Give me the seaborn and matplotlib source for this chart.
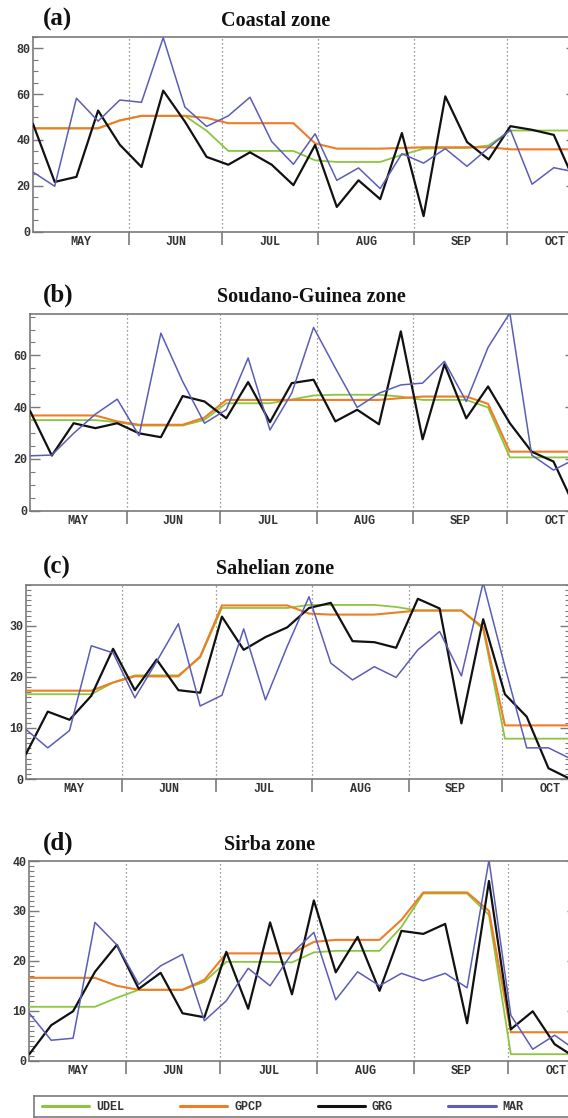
import numpy as np
import pandas as pd
import matplotlib
matplotlib.use("Agg")
import matplotlib.pyplot as plt
from matplotlib.lines import Line2D
from matplotlib.ticker import MultipleLocator, FixedLocator, FixedFormatter, NullFormatter
import seaborn as sns

sns.set_theme(style="white")
plt.rcParams["font.family"] = ["Liberation Mono", "DejaVu Sans Mono"]

W, H, DPI = 568, 1118, 100

# ── Data (weekly values, day 0 = 1 May) ──────────────────────────────────────
days = np.arange(26) * 7
months = ["MAY", "JUN", "JUL", "AUG", "SEP", "OCT"]
month_starts = [0, 31, 61, 92, 123, 153, 184]

series = ["UDEL", "GPCP", "GRG", "MAR"]

coastal_udel = [45, 45, 45, 45, 48.5, 50.5, 50.5, 50.5, 44, 35.2, 35.2, 35.2, 35.2,
                31.1, 30.4, 30.4, 30.4, 33.5, 36.2, 36.5, 36.5, 37.6, 44.1, 44.1, 44.1, 44.1]
coastal_gpcp = [45.1, 45.1, 45.1, 45.1, 48.5, 50.5, 50.5, 50.5, 49.6, 47.3, 47.3, 47.3, 47.3,
                38.5, 36.2, 36.2, 36.2, 36.5, 36.8, 36.8, 36.8, 36.8, 35.9, 35.9, 35.9, 35.9]
coastal_grg = [47.0, 21.7, 23.9, 52.8, 37.9, 28.2, 61.5, 48, 32.6, 29.2, 34.6, 29.2, 20.3,
               37.8, 10.8, 22.4, 14.2, 43.0, 6.8, 59.0, 39.1, 31.5, 46.0, 44.4, 42.2, 21]
coastal_mar = [26, 19.8, 58.2, 48.2, 57.4, 56.4, 84.6, 54.3, 45.9, 50.5, 58.6, 39.3, 29.4,
               42.7, 22.4, 27.8, 18.8, 34.0, 29.9, 36.2, 28.5, 36.6, 44.4, 20.7, 27.9, 26]

soudano_udel = [35.0, 35.0, 35.0, 35.0, 34.2, 32.9, 32.9, 32.9, 35.1, 41.5, 41.5, 41.5, 43.0,
                44.5, 44.8, 44.8, 44.8, 44.1, 42.8, 42.8, 42.8, 39.9, 20.6, 20.6, 20.6, 20.6]
soudano_gpcp = [36.8, 36.8, 36.8, 36.8, 34.5, 33.2, 33.2, 33.2, 36.0, 42.8, 42.8, 42.8, 42.8,
                42.8, 42.8, 42.8, 42.8, 43.5, 44.1, 44.1, 44.1, 41.3, 22.8, 22.8, 22.8, 22.8]
soudano_grg = [38.6, 21.3, 33.8, 31.9, 33.8, 29.9, 28.4, 44.3, 42.2, 35.7, 49.7, 34.2, 49.3,
               50.6, 34.5, 39.0, 33.4, 69.3, 27.6, 56.6, 35.7, 48.0, 33.8, 22.8, 19.0, 1.0]
soudano_mar = [21.2, 21.5, 29.9, 37.3, 43.1, 29.0, 68.6, 49.9, 33.8, 39.0, 59.0, 31.2, 45.4,
               70.8, 55.1, 39.9, 45.4, 48.6, 49.3, 57.7, 42.2, 63.1, 76.4, 21.5, 15.7, 20]

sahel_udel = [16.6, 16.6, 16.6, 16.6, 18.9, 20.3, 20.3, 20.3, 23.8, 33.5, 33.5, 33.5, 33.5,
              34.1, 34.1, 34.1, 34.1, 33.7, 33.0, 33.0, 33.0, 29.4, 7.9, 7.9, 7.9, 7.9]
sahel_gpcp = [17.3, 17.3, 17.3, 17.3, 18.9, 20.1, 20.1, 20.1, 24.0, 34.0, 34.0, 34.0, 34.0,
              32.4, 32.2, 32.2, 32.2, 32.6, 33.0, 33.0, 33.0, 29.7, 10.5, 10.5, 10.5, 10.5]
sahel_grg = [4.9, 13.2, 11.6, 16.3, 25.5, 17.4, 23.4, 17.4, 16.9, 31.8, 25.3, 27.8, 29.7,
             33.5, 34.5, 27.0, 26.8, 25.7, 35.3, 33.4, 10.9, 31.3, 16.6, 12.2, 2.1, 0.0]
sahel_mar = [9.7, 6.1, 9.5, 26.1, 24.7, 15.9, 23.0, 30.4, 14.3, 16.4, 29.4, 15.5, 26.0,
             35.7, 22.7, 19.4, 22.0, 19.9, 25.3, 28.9, 20.2, 38.5, 22.0, 6.1, 6.1, 4.0]

sirba_udel = [10.8, 10.8, 10.8, 10.8, 12.6, 14.2, 14.2, 14.2, 15.8, 19.8, 19.8, 19.8, 19.7,
              21.7, 22.0, 22.0, 22.0, 26.8, 33.5, 33.5, 33.5, 29.2, 1.3, 1.3, 1.3, 1.3]
sirba_gpcp = [16.6, 16.6, 16.6, 16.6, 15.0, 14.2, 14.2, 14.2, 16.2, 21.5, 21.5, 21.5, 21.5,
              23.8, 24.2, 24.2, 24.2, 28.2, 33.7, 33.7, 33.7, 30.0, 5.7, 5.7, 5.7, 5.7]
sirba_grg = [1.3, 7.1, 9.9, 17.8, 23.2, 14.4, 17.6, 9.5, 8.7, 21.8, 10.4, 27.7, 13.3,
             32.1, 17.7, 24.8, 14.0, 26.0, 25.4, 27.4, 7.5, 36.0, 6.3, 9.9, 3.3, 0.5]
sirba_mar = [9.5, 4.1, 4.5, 27.7, 23.2, 15.3, 19.0, 21.3, 8.0, 12.0, 18.5, 15.0, 21.5,
             25.7, 12.2, 17.8, 15.0, 17.5, 16.0, 17.5, 14.6, 40.2, 9.1, 2.3, 5.1, 2.0]

# ── Styling ──────────────────────────────────────────────────────────────────
COLORS = {"UDEL": "#8cc63e", "GPCP": "#ee7d26", "GRG": "#111111", "MAR": "#5b5db6"}
LWS = {"UDEL": 1.3, "GPCP": 1.5, "GRG": 1.6, "MAR": 1.1}
GREY = "#7a7a7a"
TXT = "#333333"

# panel geometry in pixels: left, top, bottom, px-per-day ; title placement
panels = [
    dict(label="(a)", title="Coastal zone", data=[coastal_udel, coastal_gpcp, coastal_grg, coastal_mar],
         ylim=85, major=20, minor=5, left=33, top=36.7, bottom=231.7, k=3.10,
         base=26, tx=221),
    dict(label="(b)", title="Soudano-Guinea zone", data=[soudano_udel, soudano_gpcp, soudano_grg, soudano_mar],
         ylim=76, major=20, minor=5, left=30, top=314, bottom=510.7, k=3.116,
         base=302, tx=217),
    dict(label="(c)", title="Sahelian zone", data=[sahel_udel, sahel_gpcp, sahel_grg, sahel_mar],
         ylim=38, major=10, minor=1, left=26, top=585, bottom=779, k=3.11,
         base=574, tx=216),
    dict(label="(d)", title="Sirba zone", data=[sirba_udel, sirba_gpcp, sirba_grg, sirba_mar],
         ylim=40, major=10, minor=1, left=29.3, top=861, bottom=1060.7, k=3.127,
         base=850, tx=224),
]

XMAX = 175
centers = [(a + b) / 2 for a, b in zip(month_starts[:-1], month_starts[1:])]

fig = plt.figure(figsize=(W / DPI, H / DPI), dpi=DPI)
fig.patch.set_facecolor("white")

for p in panels:
    right = p["left"] + XMAX * p["k"]
    ax = fig.add_axes([p["left"] / W, 1 - p["bottom"] / H,
                       (right - p["left"]) / W, (p["bottom"] - p["top"]) / H])
    for d in month_starts[1:6]:
        ax.axvline(d, color=GREY, ls=(0, (1, 2.2)), lw=0.9, zorder=1)

    for name, vals in zip(series, p["data"]):
        df = pd.DataFrame({"day": days, "val": vals})
        sns.lineplot(data=df, x="day", y="val", ax=ax, color=COLORS[name],
                     lw=LWS[name], zorder=3)

    ax.set_xlim(0, XMAX)
    ax.set_ylim(0, p["ylim"])
    ax.set_xlabel("")
    ax.set_ylabel("")

    ax.xaxis.set_major_locator(FixedLocator(month_starts[1:6]))
    ax.xaxis.set_major_formatter(NullFormatter())
    ax.xaxis.set_minor_locator(FixedLocator(centers))
    ax.xaxis.set_minor_formatter(FixedFormatter(months))
    ax.tick_params(axis="x", which="major", direction="out", length=9, width=1.2,
                   color=GREY, bottom=True, top=False)
    ax.tick_params(axis="x", which="minor", length=0, pad=3, labelsize=8.5,
                   labelcolor=TXT, bottom=True, top=False)

    ax.yaxis.set_major_locator(MultipleLocator(p["major"]))
    ax.yaxis.set_minor_locator(MultipleLocator(p["minor"]))
    ax.tick_params(axis="y", which="major", direction="in", length=7, width=1.0,
                   color=GREY, left=True, right=True, pad=2, labelsize=8.5, labelcolor=TXT)
    ax.tick_params(axis="y", which="minor", direction="in", length=3.5, width=0.8,
                   color=GREY, left=True, right=True)
    for lbl in ax.get_xticklabels(minor=True) + ax.get_yticklabels():
        lbl.set_fontweight("bold")

    for s in ax.spines.values():
        s.set_color(GREY)
        s.set_linewidth(1.2)
    ax.grid(False)

    fig.text(43 / W, 1 - p["base"] / H, p["label"], ha="left", va="baseline",
             fontsize=18, fontweight="bold", family="Liberation Serif", color="#111111")
    fig.text(p["tx"] / W, 1 - p["base"] / H, p["title"], ha="left", va="baseline",
             fontsize=14.5, fontweight="bold", family="Liberation Serif", color="#111111")

# ── Legend box ───────────────────────────────────────────────────────────────
ax_leg = fig.add_axes([34 / W, 1 - 1117 / H, (W + 20 - 34) / W, 21 / H])
ax_leg.set_xticks([])
ax_leg.set_yticks([])
for s in ax_leg.spines.values():
    s.set_color(GREY)
    s.set_linewidth(1.2)
handles = [Line2D([], [], color=COLORS[n], lw=2.2) for n in series]
ax_leg.legend(handles, series, ncol=4, loc="center left",
              bbox_to_anchor=(42 / W, 1 - 1107 / H), bbox_transform=fig.transFigure,
              frameon=False, handlelength=4.0, handletextpad=0.6, columnspacing=4.7,
              borderpad=0, borderaxespad=0,
              prop={"family": "Liberation Mono", "weight": "bold", "size": 8.5})
for t in ax_leg.get_legend().get_texts():
    t.set_color(TXT)

fig.savefig("out.png", dpi=DPI)
